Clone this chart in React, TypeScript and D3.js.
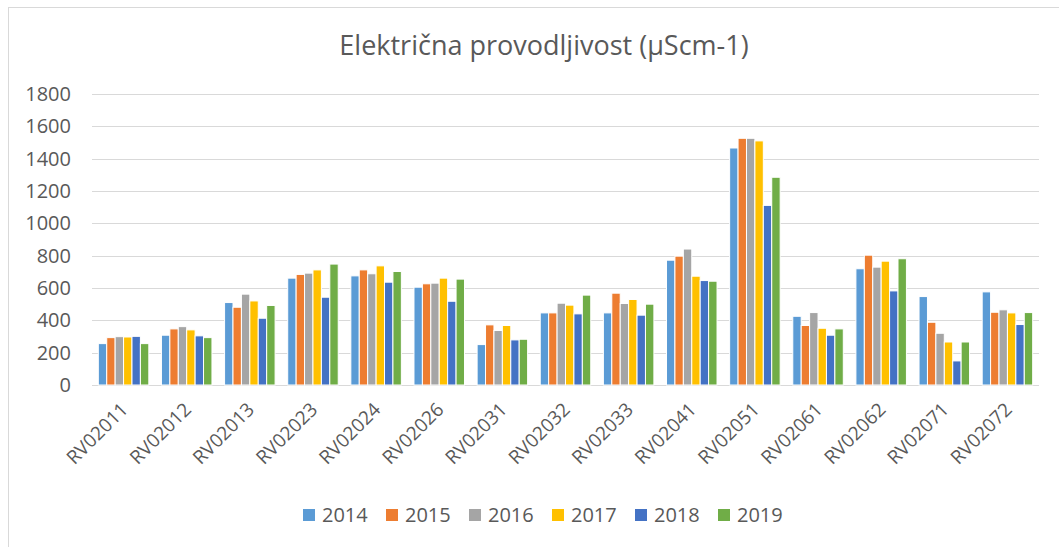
import React, { useEffect, useRef } from "react";
import * as d3 from "d3";

const categories = [
  "RV02011", "RV02012", "RV02013", "RV02023", "RV02024", "RV02026", "RV02031", "RV02032",
  "RV02033", "RV02041", "RV02051", "RV02061", "RV02062", "RV02071", "RV02072",
];

const years = ["2014", "2015", "2016", "2017", "2018", "2019"];

const v2014 = [256, 308, 510, 661, 675, 605, 250, 446, 446, 772, 1466, 425, 719, 547, 576];
const v2015 = [293, 347, 481, 684, 712, 626, 372, 446, 568, 797, 1526, 368, 803, 388, 450];
const v2016 = [299, 361, 562, 692, 688, 630, 337, 506, 504, 841, 1526, 448, 729, 320, 465];
const v2017 = [297, 341, 520, 712, 737, 661, 368, 494, 529, 673, 1510, 351, 766, 266, 446];
const v2018 = [301, 304, 413, 543, 636, 518, 279, 440, 432, 646, 1111, 308, 582, 149, 374];
const v2019 = [256, 293, 492, 748, 702, 655, 283, 556, 500, 642, 1285, 347, 781, 266, 448];

const yTicks = [0, 200, 400, 600, 800, 1000, 1200, 1400, 1600, 1800];

const colors = ["#5B9BD5", "#ED7D31", "#A5A5A5", "#FFC000", "#4472C4", "#70AD47"];

const width = 1059;
const height = 547;
const margin = { top: 94, right: 20, bottom: 162, left: 92 };
const font = "'Open Sans', sans-serif";
const textColor = "#595959";

const App = () => {
  const ref = useRef<SVGSVGElement>(null);

  useEffect(() => {
    const svg = d3.select(ref.current);
    svg.selectAll("*").remove();

    const series = [v2014, v2015, v2016, v2017, v2018, v2019];

    const x0 = d3
      .scaleBand()
      .domain(categories)
      .range([margin.left, width - margin.right])
      .paddingInner(0.2)
      .paddingOuter(0.1);
    const x1 = d3.scaleBand().domain(years).range([0, x0.bandwidth()]);
    const y = d3
      .scaleLinear()
      .domain([0, 1800])
      .range([height - margin.bottom, margin.top]);

    // chart border
    svg
      .append("rect")
      .attr("x", 8.5)
      .attr("y", 7.5)
      .attr("width", 1100)
      .attr("height", 600)
      .attr("fill", "white")
      .attr("stroke", "#D9D9D9");

    svg
      .append("text")
      .attr("x", 544)
      .attr("y", 54.5)
      .attr("text-anchor", "middle")
      .attr("font-family", font)
      .attr("font-size", 27)
      .attr("fill", textColor)
      .text("Električna provodljivost (µScm-1)");

    // grid
    svg
      .append("g")
      .selectAll("line")
      .data(yTicks)
      .enter()
      .append("line")
      .attr("x1", margin.left)
      .attr("x2", width - margin.right)
      .attr("y1", (d) => Math.round(y(d)) + 0.5)
      .attr("y2", (d) => Math.round(y(d)) + 0.5)
      .attr("stroke", "#D9D9D9")
      .attr("stroke-width", 1);

    svg
      .append("g")
      .selectAll("text")
      .data(yTicks)
      .enter()
      .append("text")
      .attr("x", 71)
      .attr("y", (d) => y(d))
      .attr("dy", "0.35em")
      .attr("text-anchor", "end")
      .attr("font-family", font)
      .attr("font-size", 20)
      .attr("fill", textColor)
      .text((d) => d);

    // bars
    const groups = svg
      .append("g")
      .selectAll("g")
      .data(categories)
      .enter()
      .append("g")
      .attr("transform", (d) => `translate(${x0(d)},0)`);

    groups
      .selectAll("rect")
      .data((d, i) => years.map((yr, j) => ({ yr, value: series[j][i], j })))
      .enter()
      .append("rect")
      .attr("x", (d) => x1(d.yr)!)
      .attr("y", (d) => y(d.value))
      .attr("width", x1.bandwidth())
      .attr("height", (d) => y(0) - y(d.value))
      .attr("fill", (d) => colors[d.j])
      .attr("stroke", "white")
      .attr("stroke-width", 1);

    // x labels
    svg
      .append("g")
      .selectAll("text")
      .data(categories)
      .enter()
      .append("text")
      .attr(
        "transform",
        (d) => `translate(${x0(d)! + x0.bandwidth() / 2 + 1},${y(0) + 21}) rotate(-45)`
      )
      .attr("text-anchor", "end")
      .attr("dy", "0.35em")
      .attr("font-family", font)
      .attr("font-size", 19)
      .attr("fill", textColor)
      .text((d) => d);

    // legend
    const legend = svg
      .append("g")
      .selectAll("g")
      .data(years)
      .enter()
      .append("g")
      .attr("transform", (d, i) => `translate(${303 + i * 83},509)`);

    legend
      .append("rect")
      .attr("width", 12)
      .attr("height", 12)
      .attr("fill", (d, i) => colors[i]);

    legend
      .append("text")
      .attr("x", 19)
      .attr("y", 6)
      .attr("dy", "0.35em")
      .attr("font-family", font)
      .attr("font-size", 20)
      .attr("fill", textColor)
      .text((d) => d);
  }, []);

  return (
    <div style={{ position: "absolute", left: 0, top: 0 }}>
      <svg ref={ref} width={width} height={height} style={{ display: "block" }} />
    </div>
  );
};

export default App;
